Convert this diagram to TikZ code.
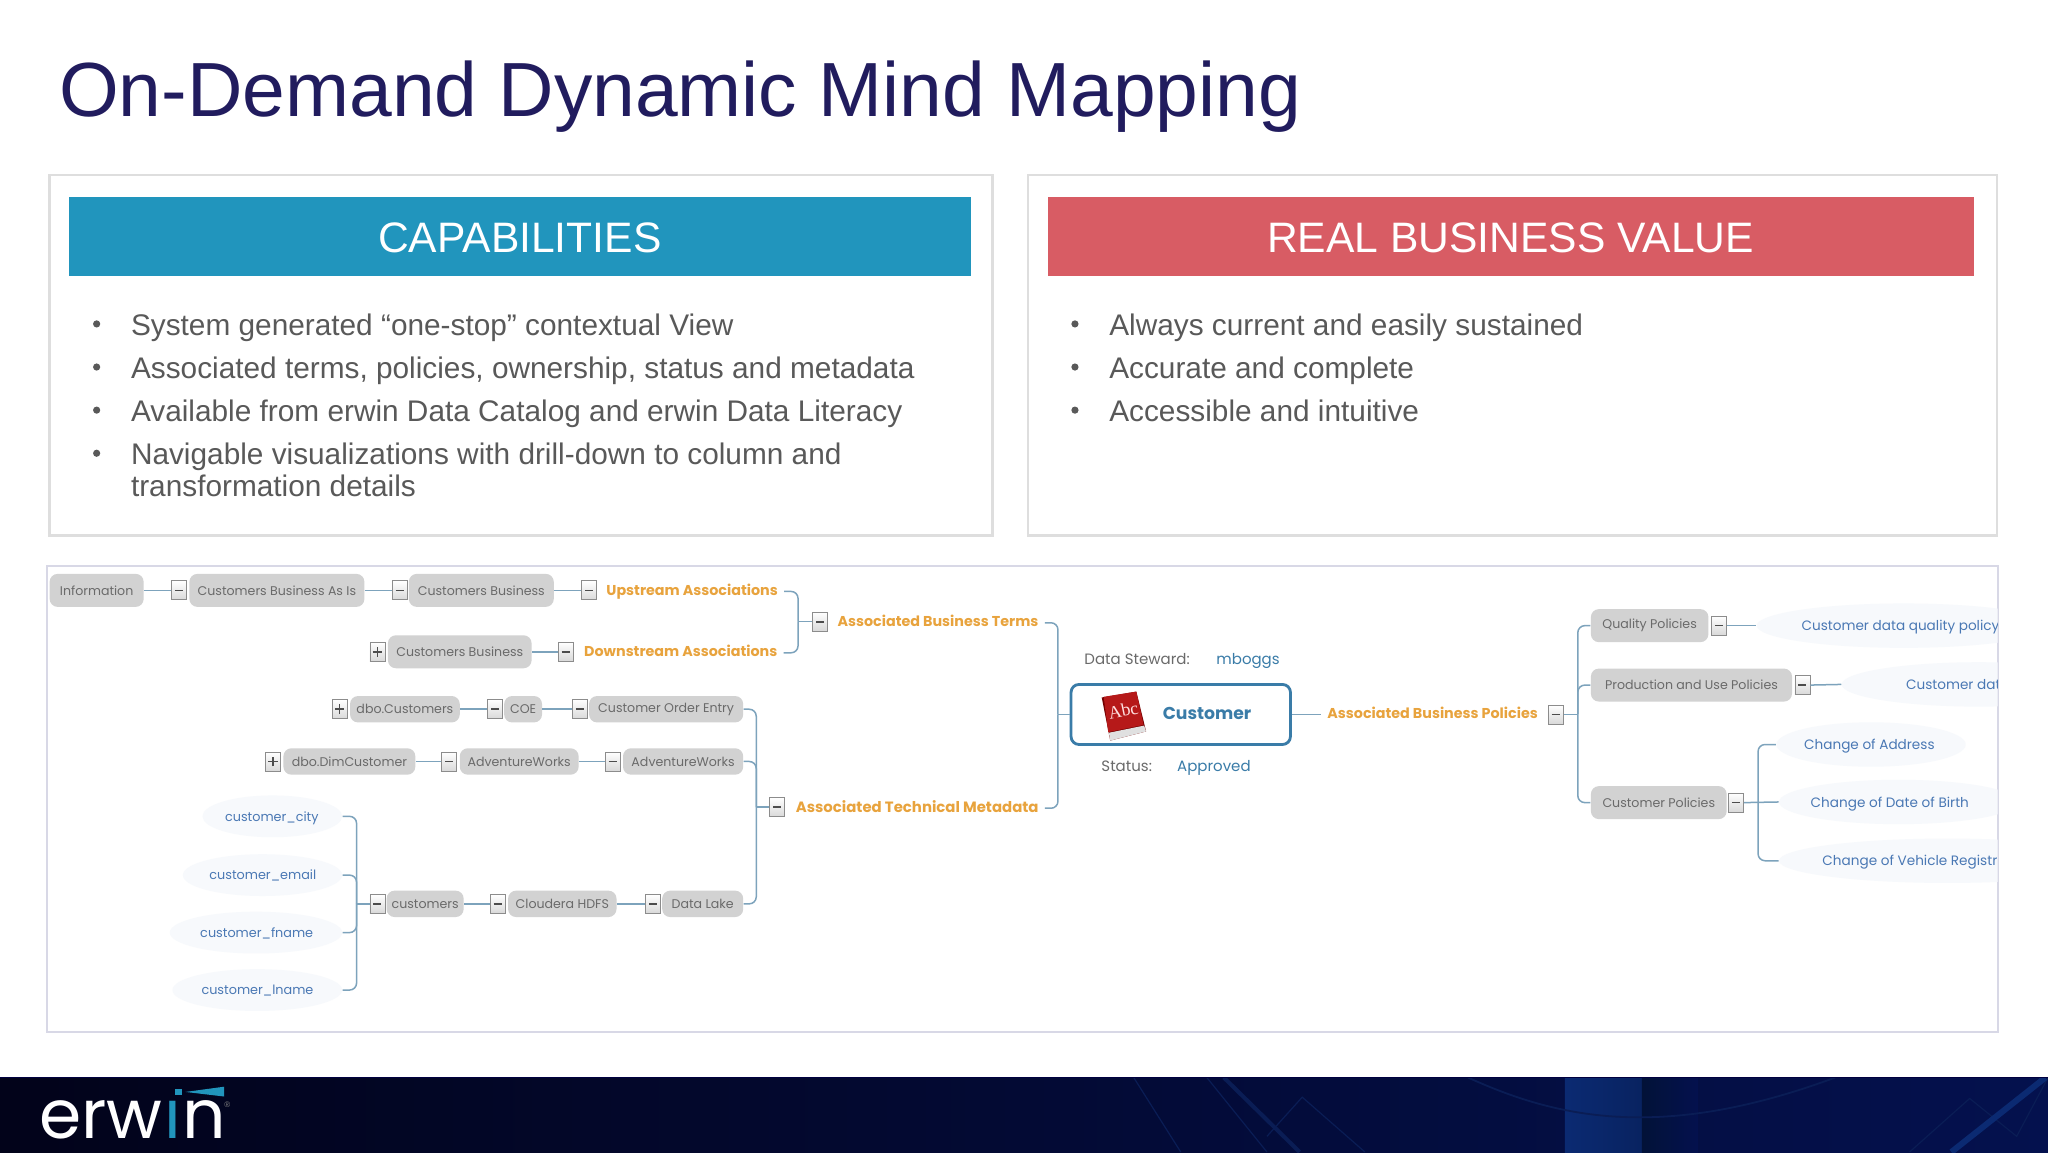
\documentclass[tikz,border=0pt]{standalone}
\usepackage{fontspec}
\usetikzlibrary{shapes.geometric}
\setmainfont{Liberation Sans}
\newfontfamily\mapfont{Poppins}
\newfontfamily\bookfont{Liberation Serif}
\definecolor{titlecol}{HTML}{211C5E}
\definecolor{panelline}{HTML}{DEDEDE}
\definecolor{capblue}{HTML}{2195BD}
\definecolor{valred}{HTML}{D85C64}
\definecolor{bodygrey}{HTML}{595959}
\definecolor{nodegrey}{HTML}{D2D2D2}
\definecolor{nodetext}{HTML}{6A6A6A}
\definecolor{orangetext}{HTML}{E8A33D}
\definecolor{fieldblue}{HTML}{4A78B4}
\definecolor{custblue}{HTML}{3A7CA8}
\definecolor{conncol}{HTML}{7DA3BC}
\definecolor{ellfill}{HTML}{F7F9FC}
\definecolor{framecol}{HTML}{D8D8E6}
\definecolor{footleft}{HTML}{02031A}
\definecolor{footright}{HTML}{04114E}
\definecolor{footband}{HTML}{0B2A72}
\definecolor{footdark}{HTML}{021238}
\definecolor{footline}{HTML}{0A1D55}
\tikzset{
  panel/.style={draw=panelline,line width=1.3pt,fill=white},
  bullettext/.style={anchor=base west,inner sep=0pt,text=bodygrey,font=\fontsize{14.9pt}{16.3pt}\selectfont},
  bulletdot/.style={circle,fill=bodygrey,inner sep=0pt,minimum size=3.6pt},
  headtext/.style={text=white,font=\fontsize{21.3pt}{26pt}\selectfont,inner sep=0pt},
  mmnode/.style={fill=nodegrey,rounded corners=4pt,minimum height=16.5pt,inner sep=0pt,text=nodetext,font=\mapfont\fontsize{6.3pt}{7pt}\selectfont},
  slim/.style={mmnode,minimum height=13.2pt},
  mmtext/.style={anchor=west,inner ysep=0pt,inner xsep=3pt,text height=5.4pt,text depth=1.6pt,font=\mapfont\fontsize{6.4pt}{7pt}\selectfont},
  conn/.style={draw=conncol,line width=0.75pt,rounded corners=3.5pt},
  toggle/.style={rectangle,draw=black!45,line width=0.4pt,top color=white,bottom color=black!15,minimum width=7.5pt,minimum height=9.5pt,inner sep=0pt},
  minusmark/.style={toggle,path picture={\draw[black!70,line width=0.8pt] ([xshift=-2pt]path picture bounding box.center) -- ([xshift=2pt]path picture bounding box.center);}},
  plusmark/.style={toggle,path picture={\draw[black!70,line width=0.8pt] ([xshift=-2.4pt]path picture bounding box.center) -- ([xshift=2.4pt]path picture bounding box.center) ([yshift=-2.4pt]path picture bounding box.center) -- ([yshift=2.4pt]path picture bounding box.center);}},
  fieldell/.style={ellipse,fill=ellfill,inner sep=0pt},
}
\newcommand{\mmnodebox}[5]{\node[mmnode,minimum width={(#3-#2)*0.65306pt}] (#1) at ({(#2+#3)/2},#4) {#5};}
\newcommand{\mmslim}[5]{\node[slim,minimum width={(#3-#2)*0.65306pt}] (#1) at ({(#2+#3)/2},#4) {#5};}
\newcommand{\mmlab}[5]{\node[mmtext,text=#4] (#1) at ({#2-4.6},#3+0.8) {#5};}
\newcommand{\mmell}[5]{\node[fieldell,minimum width={(#3-#2)*0.65306pt},minimum height={#5*0.65306pt}] (#1) at ({(#2+#3)/2},#4) {};}
\newcommand{\orangefs}{\bfseries\fontsize{7.15pt}{8pt}\selectfont}
\newcommand{\policyfs}{\fontsize{6.8pt}{8pt}\selectfont}
\newcommand{\centrefs}{\fontsize{7.5pt}{8pt}\selectfont}
\begin{document}
\begin{tikzpicture}[x=0.65306pt,y=-0.65306pt]
\useasboundingbox (0,0) rectangle (1568,882);
\fill[white] (0,0) rectangle (1568,882);
% title
\node[anchor=base west,inner sep=0pt,text=titlecol,font=\fontsize{38.4pt}{44pt}\selectfont] (title) at (45,89) {On-Demand Dynamic Mind Mapping};
% panels
\draw[panel] (38,134) rectangle (760,410);
\draw[panel] (787,134) rectangle (1529,410);
\fill[capblue] (53,151) rectangle (743.5,211);
\fill[valred] (802,151) rectangle (1511,211);
\node[headtext] (caphead) at (398,182) {CAPABILITIES};
\node[headtext] (valhead) at (1156.5,182) {REAL BUSINESS VALUE};
% left bullets
\node[bulletdot] (b1) at (74,248) {};
\node[bulletdot] (b2) at (74,281) {};
\node[bulletdot] (b3) at (74,314) {};
\node[bulletdot] (b4) at (74,347) {};
\node[bullettext] (t1) at (100,256.5) {System generated “one-stop” contextual View};
\node[bullettext] (t2) at (100,289.5) {Associated terms, policies, ownership, status and metadata};
\node[bullettext] (t3) at (100,322.5) {Available from erwin Data Catalog and erwin Data Literacy};
\node[bullettext] (t4) at (100,355.5) {Navigable visualizations with drill-down to column and};
\node[bullettext] (t5) at (100,380.5) {transformation details};
% right bullets
\node[bulletdot] (c1) at (823,248) {};
\node[bulletdot] (c2) at (823,281) {};
\node[bulletdot] (c3) at (823,314) {};
\node[bullettext] (u1) at (849,256.5) {Always current and easily sustained};
\node[bullettext] (u2) at (849,289.5) {Accurate and complete};
\node[bullettext] (u3) at (849,322.5) {Accessible and intuitive};
% mind map frame
\draw[draw=framecol,line width=1pt] (36,433) rectangle (1530,790);
\begin{scope}
\clip (36,433) rectangle (1529.5,790);
% field ellipses
\mmell{ecity}{155}{262}{625}{32}
\mmell{eemail}{140}{262}{670}{32}
\mmell{efname}{130}{262}{714}{32}
\mmell{elname}{132}{262}{758}{32}
\mmell{eq}{1345}{1570}{479}{34}
\mmell{ep}{1410}{1620}{524}{34}
\mmell{ea}{1360}{1505}{570}{34}
\mmell{eb}{1362}{1545}{614}{34}
\mmell{ev}{1362}{1620}{659}{34}
% row 1
\mmnodebox{info}{38}{110}{452}{Information}
\node[minusmark] (m1) at (137,452) {};
\mmnodebox{cbai}{145}{279}{452}{Customers Business As Is}
\node[minusmark] (m2) at (306,452) {};
\mmnodebox{cb1}{313}{424}{452}{Customers Business}
\node[minusmark] (m3) at (451,452) {};
\mmlab{up}{464}{452}{orangetext}{\orangefs Upstream Associations}
% row 2
\node[plusmark] (p1) at (289,499) {};
\mmnodebox{cb2}{297}{407}{499}{Customers Business}
\node[minusmark] (m4) at (433,499) {};
\mmlab{down}{447}{499}{orangetext}{\orangefs Downstream Associations}
\node[minusmark] (m5) at (628,476) {};
\mmlab{abt}{641}{476}{orangetext}{\orangefs Associated Business Terms}
\coordinate (j1) at (611,476);
\draw[conn] (info.east) -- (m1.west);
\draw[conn] (cbai.east) -- (m2.west);
\draw[conn] (cb1.east) -- (m3.west);
\draw[conn] (cb2.east) -- (m4.west);
\draw[conn] (up.east) -| (j1);
\draw[conn] (down.east) -| (j1);
\draw[conn] (j1) -- (m5.west);
% row 3
\node[plusmark] (p2) at (260,543) {};
\mmslim{dboc}{268}{352}{543}{dbo.Customers}
\node[minusmark] (m6) at (379,543) {};
\mmslim{coe}{386}{415}{543}{COE}
\node[minusmark] (m7) at (444,543) {};
\mmslim{coe2}{451}{569}{543}{Customer Order Entry}
% row 4
\node[plusmark] (p3) at (209,583) {};
\mmslim{dbod}{217}{318}{583}{dbo.DimCustomer}
\node[minusmark] (m8) at (344,583) {};
\mmslim{aw1}{352}{443}{583}{AdventureWorks}
\node[minusmark] (m9) at (469,583) {};
\mmslim{aw2}{477}{569}{583}{AdventureWorks}
% row 5
\node[minusmark] (m10) at (289,692) {};
\mmslim{cust}{296}{355}{692}{customers}
\node[minusmark] (m11) at (381,692) {};
\mmslim{hdfs}{389}{472}{692}{Cloudera HDFS}
\node[minusmark] (m12) at (500,692) {};
\mmslim{lake}{507}{569}{692}{Data Lake}
\node[minusmark] (m13) at (595,618) {};
\mmlab{atm}{609}{618}{orangetext}{\bfseries\fontsize{7.45pt}{8pt}\selectfont Associated Technical Metadata}
\coordinate (j2) at (579,618);
\coordinate (j3) at (273,692);
\draw[conn] (dboc.east) -- (m6.west);
\draw[conn] (coe.east) -- (m7.west);
\draw[conn] (dbod.east) -- (m8.west);
\draw[conn] (aw1.east) -- (m9.west);
\draw[conn] (cust.east) -- (m11.west);
\draw[conn] (hdfs.east) -- (m12.west);
\draw[conn] (coe2.east) -| (j2);
\draw[conn] (aw2.east) -| (j2);
\draw[conn] (lake.east) -| (j2);
\draw[conn] (j2) -- (m13.west);
% fields
\mmlab{tcity}{172}{625}{fieldblue}{customer\_city}
\mmlab{temail}{160}{670}{fieldblue}{customer\_email}
\mmlab{tfname}{153}{714}{fieldblue}{customer\_fname}
\mmlab{tlname}{154}{758}{fieldblue}{customer\_lname}
\draw[conn] (ecity.east) -| (j3);
\draw[conn] (eemail.east) -| (j3);
\draw[conn] (efname.east) -| (j3);
\draw[conn] (elname.east) -| (j3);
\draw[conn] (j3) -- (m10.west);
% centre
\mmlab{dslab}{830}{505}{nodetext}{\centrefs Data Steward:}
\mmlab{dsval}{931}{505}{custblue}{\centrefs mboggs}
\mmlab{stlab}{843}{587}{nodetext}{\centrefs Status:}
\mmlab{stval}{901}{587}{custblue}{\centrefs Approved}
\node[draw=custblue,line width=1.4pt,rounded corners=4pt,fill=white,minimum width={168*0.65306pt},minimum height={46*0.65306pt},inner sep=0pt] (main) at (904,547) {};
% book icon
\fill[red!45!black] (843.5,534) -- (870,529.5) -- (877.5,560) -- (850,567) -- cycle;
\fill[black!12] (849,561) -- (876,555.5) -- (877.5,560) -- (850,567) -- cycle;
\fill[red!68!black!90!white] (845,533.5) -- (870,529.5) -- (875.5,555) -- (848.5,560.5) -- cycle;
\node[inner sep=0pt,rotate=12,text=white!88!red,font=\bookfont\fontsize{9pt}{10pt}\selectfont] (abc) at (860,544) {Abc};
\node[anchor=west,inner sep=0pt,text=custblue,font=\mapfont\bfseries\fontsize{8.6pt}{9pt}\selectfont] (custname) at (890,546.5) {Customer};
\mmlab{abp}{1016}{546.2}{orangetext}{\orangefs Associated Business Policies}
\node[minusmark] (m14) at (1191,547) {};
\draw[conn] (main.east) -- (abp.west);
\coordinate (j4) at (810,547);
\draw[conn] (abt.east) -| (j4);
\draw[conn] (atm.east) -| (j4);
\draw[conn] (j4) -- (main.west);
% right side
\mmnodebox{qp}{1218}{1308}{479}{Quality Policies}
\node[minusmark] (m15) at (1316,479) {};
\mmlab{tq}{1379}{479}{fieldblue}{\policyfs Customer data quality policy}
\mmnodebox{pu}{1218}{1372}{524.5}{Production and Use Policies}
\node[minusmark] (m16) at (1380,524.5) {};
\mmlab{tp}{1459}{524.5}{fieldblue}{\policyfs Customer dat}
\mmnodebox{cp}{1218}{1322}{614.5}{Customer Policies}
\node[minusmark] (m17) at (1329,614.5) {};
\mmlab{ta}{1381}{570}{fieldblue}{\policyfs Change of Address}
\mmlab{tb}{1386}{614.5}{fieldblue}{\policyfs Change of Date of Birth}
\mmlab{tv}{1395}{659}{fieldblue}{\policyfs Change of Vehicle Registr}
\coordinate (j5) at (1208,547);
\coordinate (j6) at (1346,614.5);
\draw[conn] (m14.east) -- (j5);
\draw[conn] (j5) |- (qp.west);
\draw[conn] (j5) |- (pu.west);
\draw[conn] (j5) |- (cp.west);
\draw[conn] (m15.east) -- (eq.west);
\draw[conn] (m16.east) -- (ep.west);
\draw[conn] (m17.east) -- (eb.west);
\draw[conn] (j6) |- (ea.west);
\draw[conn] (j6) |- (ev.west);
\end{scope}
% footer
\begin{scope}
\clip (0,825) rectangle (1568,882);
\shade[left color=footleft,right color=footright] (0,825) rectangle (1568,882);
\shade[left color=footband,right color=footband!70!footdark] (1198,825) rectangle (1257,882);
\shade[left color=footdark,right color=footright] (1257,825) rectangle (1300,882);
\draw[footline,line width=0.6pt] (868,825) -- (904,882) (924,825) -- (970,882);
\draw[footline,line width=2pt] (937,825) -- (995,882);
\draw[footline,line width=0.6pt] (970,870) -- (997,840) -- (1045,882);
\draw[footline,line width=0.9pt] (1124,825) .. controls (1190,855) and (1270,875) .. (1405,825);
\draw[footline,line width=0.6pt] (1462,882) -- (1508,841) -- (1544,870) -- (1568,825);
\draw[footband,line width=3pt] (1494,882) -- (1566,825);
\end{scope}
\draw[black!75!blue,line width=0.8pt] (0,825) -- (1568,825);
% logo
\node[anchor=base west,inner sep=0pt,text=white,font=\mapfont\fontsize{34pt}{36pt}\selectfont] (logo) at (30,872) {er\kern-0.01em w\kern0.03em\textcolor{capblue}{ı}\kern0.03em n};
\fill[capblue] (134,834) rectangle (139.5,838.5);
\fill[capblue] (142,836) -- (171.5,832) -- (171.5,839.5) -- cycle;
\node[inner sep=0pt,text=black!50,font=\fontsize{4pt}{4pt}\selectfont] (reg) at (174,846) {®};
\end{tikzpicture}
\end{document}
